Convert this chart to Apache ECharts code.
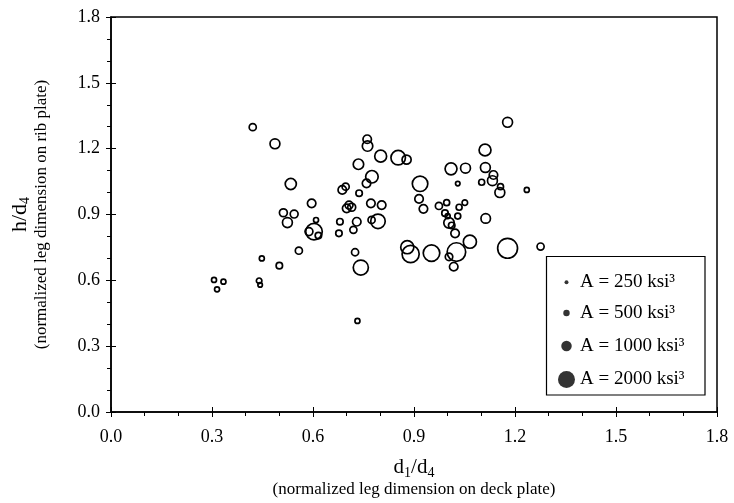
<!DOCTYPE html>
<html>
<head>
<meta charset="utf-8">
<script src="https://cdn.jsdelivr.net/npm/echarts@6/dist/echarts.min.js"></script>
<style>
  html, body { margin: 0; padding: 0; background: #fff; }
  #chart { width: 734px; height: 503px; }
</style>
</head>
<body>
<div id="chart"></div>
<script>
// Normalized leg dimension on deck plate (d1/d4)
const legDeck = [
  0.306, 0.334, 0.315, 0.440, 0.443, 0.448, 0.500, 0.421, 0.487, 0.534,
  0.512, 0.544, 0.524, 0.558, 0.596, 0.609, 0.603, 0.588, 0.616, 0.680,
  0.677, 0.687, 0.697, 0.737, 0.759, 0.775, 0.707, 0.700, 0.715, 0.730,
  0.720, 0.772, 0.804, 0.774, 0.793, 0.735, 0.761, 0.762, 0.801, 0.853,
  0.878, 0.725, 0.742, 0.732, 0.880, 0.890, 0.952, 0.918, 0.915, 0.928,
  0.974, 0.997, 1.051, 1.034, 0.992, 1.000, 1.030, 1.004, 1.012, 1.022,
  1.066, 1.026, 1.004, 1.018, 1.113, 1.178, 1.276, 1.178, 1.111, 1.010,
  1.053, 1.112, 1.136, 1.133, 1.101, 1.030, 1.157, 1.155, 1.235
];
// Normalized leg dimension on rib plate (h/d4)
const legRib = [
  0.602, 0.594, 0.559, 0.598, 0.579, 0.700, 0.667, 1.298, 1.222, 1.039,
  0.908, 0.902, 0.863, 0.735, 0.951, 0.875, 0.822, 0.822, 0.804, 0.867,
  0.814, 1.012, 1.027, 0.997, 1.042, 1.072, 0.943, 0.928, 0.933, 0.867,
  0.830, 0.951, 0.943, 0.875, 0.869, 1.129, 1.243, 1.212, 1.166, 1.159,
  1.150, 0.728, 0.658, 0.415, 0.751, 0.720, 0.724, 1.040, 0.971, 0.926,
  0.939, 0.954, 0.954, 0.933, 0.906, 0.893, 0.893, 0.862, 0.850, 0.814,
  0.776, 0.729, 0.707, 0.662, 0.882, 0.746, 0.754, 1.320, 1.194, 1.108,
  1.111, 1.114, 1.080, 1.054, 1.047, 1.041, 1.027, 1.000, 1.012
];
// Fatigue coefficient A (ksi^3), shown as bubble size
const coefA = [
  350, 350, 350, 400, 300, 350, 500, 575, 920, 1090,
  670, 670, 920, 575, 740, 350, 1920, 670, 500, 500,
  500, 740, 575, 500, 740, 1290, 670, 740, 670, 740,
  575, 740, 740, 575, 1590, 1000, 740, 1000, 1200, 1590,
  820, 575, 1690, 350, 1380, 2020, 1920, 1750, 740, 740,
  575, 450, 400, 450, 500, 350, 450, 1000, 500, 740,
  1380, 2260, 620, 740, 870, 2500, 575, 920, 1200, 1200,
  920, 920, 740, 920, 450, 300, 450, 920, 350
];
// Reference sizes listed in the key
const keyA = [250, 500, 1000, 2000];
const axisTicks = [0.0, 0.3, 0.6, 0.9, 1.2, 1.5, 1.8];

const FONT = '"Liberation Serif", "Times New Roman", serif';

// bubble diameter in px for a given A
function bubbleSize(a) {
  return 17 * Math.pow(a / 2000, 0.7);
}

const points = legDeck.map((x, i) => [x, legRib[i], coefA[i]]);

const chart = echarts.init(document.getElementById('chart'), null, { renderer: 'canvas' });

const keyNames = keyA.map(a => 'A = ' + a + ' ksi\u00B3');
const keyCenters = [282.7, 313.5, 346.5, 380];
const keyDotX = 566.5;
const maxIcon = bubbleSize(keyA[keyA.length - 1]);

// one legend block per key row so each dot can take its own size
const legends = keyA.map((a, i) => {
  const d = bubbleSize(a);
  return {
    show: true,
    selectedMode: false,
    orient: 'vertical',
    left: keyDotX - d / 2,
    top: keyCenters[i] - 10,
    padding: 0,
    itemWidth: d,
    itemHeight: d,
    data: [{ name: keyNames[i], icon: 'circle' }],
    textStyle: {
      fontFamily: FONT, fontSize: 19, color: '#000',
      padding: [0, 0, 0, (maxIcon - d) / 2]
    }
  };
});

const baseAxis = {
  type: 'value',
  min: 0,
  max: 1.8,
  interval: 0.3,
  splitLine: { show: false }
};

const option = {
  animation: false,
  backgroundColor: '#fff',
  grid: {
    left: 111, right: 17, top: 17, bottom: 91,
    show: true, borderColor: '#000', borderWidth: 1.5, backgroundColor: 'transparent'
  },
  legend: legends,
  xAxis: [
    Object.assign({}, baseAxis, {
      position: 'bottom',
      axisLine: { show: true, onZero: false, lineStyle: { color: '#000', width: 1.5 } },
      axisTick: { show: true, inside: false, length: 5, lineStyle: { color: '#000', width: 1 } },
      minorTick: { show: true, splitNumber: 3, length: 4, lineStyle: { color: '#000', width: 1 } },
      axisLabel: {
        margin: 16, color: '#000', fontFamily: FONT, fontSize: 18,
        formatter: v => (axisTicks.some(t => Math.abs(t - v) < 1e-9) ? v.toFixed(1) : '')
      },
      name: '{m|d}{s|1}{m|/d}{s|4}\n{n|(normalized leg dimension on deck plate)}',
      nameLocation: 'middle',
      nameGap: 42,
      nameTextStyle: {
        color: '#000', fontFamily: FONT,
        rich: {
          m: { fontFamily: FONT, fontSize: 21, lineHeight: 26, color: '#000', verticalAlign: 'middle' },
          s: { fontFamily: FONT, fontSize: 14, lineHeight: 14, color: '#000', verticalAlign: 'bottom' },
          n: { fontFamily: FONT, fontSize: 17, lineHeight: 19, color: '#000' }
        }
      }
    }),
    Object.assign({}, baseAxis, {
      position: 'bottom',
      offset: 0,
      axisLine: { show: false, onZero: false },
      axisTick: { show: true, inside: true, length: 5, lineStyle: { color: '#000', width: 1 } },
      axisLabel: { show: false }
    })
  ],
  yAxis: [
    Object.assign({}, baseAxis, {
      position: 'left',
      axisLine: { show: true, onZero: false, lineStyle: { color: '#000', width: 1.5 } },
      axisTick: { show: true, inside: false, length: 5, lineStyle: { color: '#000', width: 1 } },
      minorTick: { show: true, splitNumber: 3, length: 4, lineStyle: { color: '#000', width: 1 } },
      axisLabel: {
        margin: 11, color: '#000', fontFamily: FONT, fontSize: 18,
        formatter: v => v.toFixed(1)
      },
      name: '{m|h/d}{s|4}\n{n|(normalized leg dimension on rib plate)}',
      nameLocation: 'middle',
      nameRotate: 90,
      nameGap: 60,
      nameTextStyle: {
        color: '#000', fontFamily: FONT,
        rich: {
          m: { fontFamily: FONT, fontSize: 22, lineHeight: 24, color: '#000', verticalAlign: 'middle' },
          s: { fontFamily: FONT, fontSize: 14, lineHeight: 13, color: '#000', verticalAlign: 'bottom' },
          n: { fontFamily: FONT, fontSize: 17, lineHeight: 19, color: '#000' }
        }
      }
    }),
    Object.assign({}, baseAxis, {
      position: 'left',
      offset: 0,
      axisLine: { show: false, onZero: false },
      axisTick: { show: true, inside: true, length: 5, lineStyle: { color: '#000', width: 1 } },
      axisLabel: { show: false }
    })
  ],
  graphic: [
    {
      type: 'rect',
      shape: { x: 546.5, y: 256.5, width: 158.5, height: 138.5 },
      style: { fill: '#fff', stroke: '#000', lineWidth: 1.2 },
      z: 1
    }
  ],
  series: [
    {
      name: 'welds',
      type: 'scatter',
      xAxisIndex: 0,
      yAxisIndex: 0,
      data: points,
      symbol: 'circle',
      symbolSize: v => bubbleSize(v[2]),
      itemStyle: { color: 'rgba(0,0,0,0)', borderColor: '#000', borderWidth: 1.7, opacity: 1 },
      emphasis: { disabled: true },
      z: 3
    }
  ].concat(keyNames.map(n => ({
    name: n,
    type: 'scatter',
    data: [],
    itemStyle: { color: '#000' }
  })))
};

chart.setOption(option);
</script>
</body>
</html>
